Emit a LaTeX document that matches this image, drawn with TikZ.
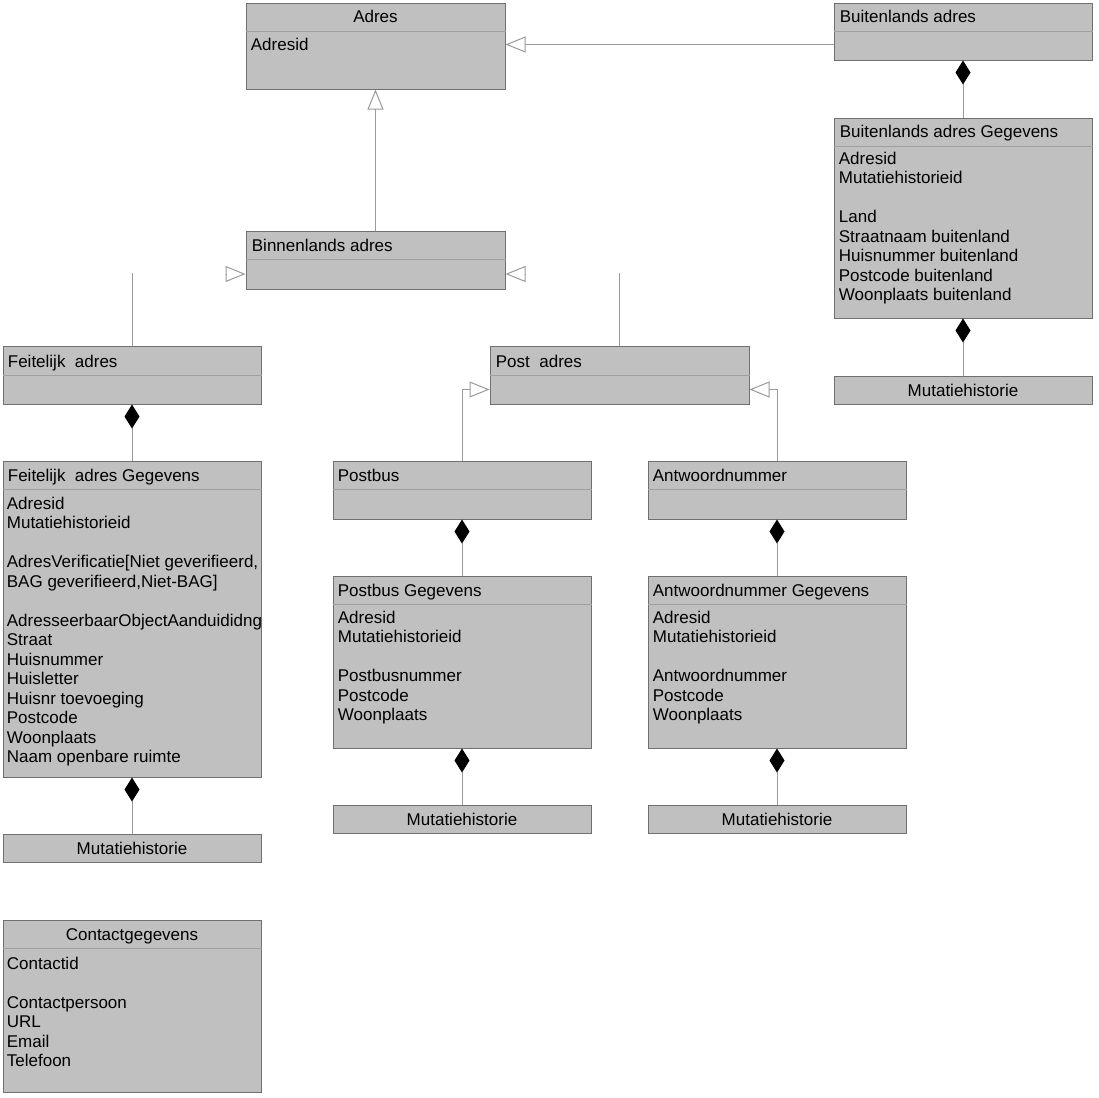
\documentclass[tikz,border=0pt]{standalone}
\usepackage{fontspec}
\setmainfont{Liberation Sans}
\usetikzlibrary{arrows.meta,fit,calc}
\definecolor{boxfill}{HTML}{C0C0C0}
\definecolor{boxline}{HTML}{707070}
\definecolor{divline}{HTML}{A0A0A0}
\definecolor{conline}{HTML}{9A9A9A}
\newcommand\umlbox[5]{\node[cls, fit={(#2,#3)(#4,#5)}] (#1) {};}
\newcommand\umldiv[2]{\draw[divider] ($(#1.north west)+(0,#2)$) -- ($(#1.north east)+(0,#2)$);}
\begin{document}
\begin{tikzpicture}[x=0.5pt,y=-0.5pt,
  cls/.style={draw=boxline, fill=boxfill, line width=0.5pt, inner sep=0pt},
  divider/.style={draw=divline, line width=0.5pt},
  txt/.style={inner sep=0pt, font=\fontsize{8.5}{9.75}\selectfont, align=left, text=black},
  conn/.style={draw=conline, line width=0.5pt},
  gen/.style={conn, -{Triangle[open, length=10pt, width=8pt]}},
  comp/.style={conn, {Diamond[length=12pt, width=7.5pt, fill=black, color=black]}-},
]
\useasboundingbox (0,0) rectangle (1099,1098);

% boxes
\umlbox{adres}{246}{3}{505}{89}
\umlbox{buit}{834}{3}{1092}{60}
\umlbox{buitg}{834}{118}{1092}{318}
\umlbox{buitm}{834}{376}{1092}{404}
\umlbox{binn}{246}{231}{505}{289}
\umlbox{feit}{3}{346}{261}{404}
\umlbox{post}{490}{346}{749}{404}
\umlbox{feitg}{3}{461}{261}{777}
\umlbox{feitm}{3}{834}{261}{862}
\umlbox{contact}{3}{920}{261}{1092}
\umlbox{pb}{333}{461}{591}{519}
\umlbox{aw}{648}{461}{906}{519}
\umlbox{pbg}{333}{576}{591}{748}
\umlbox{awg}{648}{576}{906}{748}
\umlbox{pbm}{333}{805}{591}{833}
\umlbox{awm}{648}{805}{906}{833}

% dividers
\umldiv{adres}{28.5}
\umldiv{buit}{28.5}
\umldiv{buitg}{28.5}
\umldiv{binn}{28.5}
\umldiv{feit}{29.5}
\umldiv{post}{29.5}
\umldiv{feitg}{28.5}
\umldiv{contact}{28.5}
\umldiv{pb}{28.5}
\umldiv{aw}{28.5}
\umldiv{pbg}{28.5}
\umldiv{awg}{28.5}

% titles
\node[txt, anchor=north] (adres-t) at ($(adres.north)+(0,7)$) {Adres};
\node[txt, anchor=north west] (buit-t) at ($(buit.north west)+(6,7)$) {Buitenlands adres};
\node[txt, anchor=north west] (buitg-t) at ($(buitg.north west)+(6,7)$) {Buitenlands adres Gegevens};
\node[txt] (buitm-t) at (buitm.center) {Mutatiehistorie};
\node[txt, anchor=north west] (binn-t) at ($(binn.north west)+(6,8)$) {Binnenlands adres};
\node[txt, anchor=north west] (feit-t) at ($(feit.north west)+(5,9)$) {Feitelijk\ \ adres};
\node[txt, anchor=north west] (post-t) at ($(post.north west)+(6,9)$) {Post\ \ adres};
\node[txt, anchor=north west] (feitg-t) at ($(feitg.north west)+(5,8)$) {Feitelijk\ \ adres Gegevens};
\node[txt] (feitm-t) at (feitm.center) {Mutatiehistorie};
\node[txt, anchor=north] (contact-t) at ($(contact.north)+(0,9)$) {Contactgegevens};
\node[txt, anchor=north west] (pb-t) at ($(pb.north west)+(5,8)$) {Postbus};
\node[txt, anchor=north west] (aw-t) at ($(aw.north west)+(5,8)$) {Antwoordnummer};
\node[txt, anchor=north west] (pbg-t) at ($(pbg.north west)+(5,8)$) {Postbus Gegevens};
\node[txt, anchor=north west] (awg-t) at ($(awg.north west)+(5,8)$) {Antwoordnummer Gegevens};
\node[txt] (pbm-t) at (pbm.center) {Mutatiehistorie};
\node[txt] (awm-t) at (awm.center) {Mutatiehistorie};

% attributes
\node[txt, anchor=north west] (adres-a) at ($(adres.north west)+(5,35.5)$) {Adresid};
\node[txt, anchor=north west] (buitg-a) at ($(buitg.north west)+(5,34)$)
  {Adresid\\Mutatiehistorieid\\[9.75pt]Land\\Straatnaam buitenland\\Huisnummer buitenland\\Postcode buitenland\\Woonplaats buitenland};
\node[txt, anchor=north west] (feitg-a) at ($(feitg.north west)+(4,36)$)
  {Adresid\\Mutatiehistorieid\\[9.75pt]AdresVerificatie[Niet geverifieerd,\\BAG geverifieerd,Niet-BAG]\\[9.75pt]AdresseerbaarObjectAanduididng\\Straat\\Huisnummer\\Huisletter\\Huisnr toevoeging\\Postcode\\Woonplaats\\Naam openbare ruimte};
\node[txt, anchor=north west] (contact-a) at ($(contact.north west)+(4,37)$)
  {Contactid\\[9.75pt]Contactpersoon\\URL\\Email\\Telefoon};
\node[txt, anchor=north west] (pbg-a) at ($(pbg.north west)+(5,35)$)
  {Adresid\\Mutatiehistorieid\\[9.75pt]Postbusnummer\\Postcode\\Woonplaats};
\node[txt, anchor=north west] (awg-a) at ($(awg.north west)+(5,35)$)
  {Adresid\\Mutatiehistorieid\\[9.75pt]Antwoordnummer\\Postcode\\Woonplaats};

% generalizations
\draw[gen] ($(buit.north west)+(0,42)$) -- ($(adres.north east)+(0,42)$);
\draw[gen] (binn.north) -- (adres.south);
\coordinate (bl) at (226,274);
\coordinate (br) at (525,274);
\draw[gen] (bl) -- (binn.west |- bl);
\draw[gen] (br) -- (binn.east |- br);
\coordinate (fs) at (132,273);
\coordinate (ps) at (620,273);
\draw[conn] (feit.north) -- (feit.north |- fs);
\draw[conn] (post.north) -- (post.north |- ps);
\draw[gen] (pb.north) |- ($(post.north west)+(0,44)$);
\draw[gen] (aw.north) |- ($(post.north east)+(0,44)$);

% compositions
\draw[comp] (buit.south) -- (buitg.north);
\draw[comp] (buitg.south) -- (buitm.north);
\draw[comp] (feit.south) -- (feitg.north);
\draw[comp] (feitg.south) -- (feitm.north);
\draw[comp] (pb.south) -- (pbg.north);
\draw[comp] (pbg.south) -- (pbm.north);
\draw[comp] (aw.south) -- (awg.north);
\draw[comp] (awg.south) -- (awm.north);
\end{tikzpicture}
\end{document}
